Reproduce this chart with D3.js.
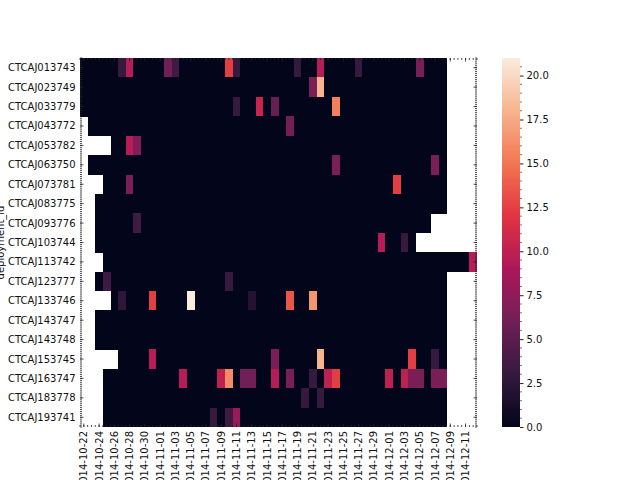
<!DOCTYPE html>
<html>
<head>
<meta charset="utf-8">
<script src="https://cdn.jsdelivr.net/npm/d3@7/dist/d3.min.js"></script>
<style>
    body { margin: 0; background: #fff; }
    text { font-family: "DejaVu Sans", sans-serif; font-size: 10px; fill: #111; }
</style>
</head>
<body>
<div id="chart"></div>
<script>
//Datos
const _ = null;

const deployments = ['CTCAJ013743','CTCAJ023749','CTCAJ033779','CTCAJ043772','CTCAJ053782','CTCAJ063750',
    'CTCAJ073781','CTCAJ083775','CTCAJ093776','CTCAJ103744','CTCAJ113742','CTCAJ123777','CTCAJ133746',
    'CTCAJ143747','CTCAJ143748','CTCAJ153745','CTCAJ163747','CTCAJ183778','CTCAJ193741'];

const dates = ['2014-10-22','2014-10-23','2014-10-24','2014-10-25','2014-10-26','2014-10-27','2014-10-28',
    '2014-10-29','2014-10-30','2014-10-31','2014-11-01','2014-11-02','2014-11-03','2014-11-04','2014-11-05',
    '2014-11-06','2014-11-07','2014-11-08','2014-11-09','2014-11-10','2014-11-11','2014-11-12','2014-11-13',
    '2014-11-14','2014-11-15','2014-11-16','2014-11-17','2014-11-18','2014-11-19','2014-11-20','2014-11-21',
    '2014-11-22','2014-11-23','2014-11-24','2014-11-25','2014-11-26','2014-11-27','2014-11-28','2014-11-29',
    '2014-11-30','2014-12-01','2014-12-02','2014-12-03','2014-12-04','2014-12-05','2014-12-06','2014-12-07',
    '2014-12-08','2014-12-09','2014-12-10','2014-12-11','2014-12-12'];

//Valores por fila (null = sin dato)
const r013743 = [0,0,0,0,0,3,9.5,0,0,0, 0,6,3.5,0,0,0,0,0,0,12.5, 3,0,0,0,0,0,0,0,3,0, 0,9.5,0,0,0,0,3,0,0,0, 0,0,0,0,6.5,0,0,0,_,_, _,_];
const r023749 = [0,0,0,0,0,0,0,0,0,0, 0,0,0,0,0,0,0,0,0,0, 0,0,0,0,0,0,0,0,0,0, 6.5,18,0,0,0,0,0,0,0,0, 0,0,0,0,0,0,0,0,_,_, _,_];
const r033779 = [0,0,0,0,0,0,0,0,0,0, 0,0,0,0,0,0,0,0,0,0, 3,0,0,10.5,0,5.5,0,0,0,0, 0,0,0,15.5,0,0,0,0,0,0, 0,0,0,0,0,0,0,0,_,_, _,_];
const r043772 = [_,0,0,0,0,0,0,0,0,0, 0,0,0,0,0,0,0,0,0,0, 0,0,0,0,0,0,0,6,0,0, 0,0,0,0,0,0,0,0,0,0, 0,0,0,0,0,0,0,0,_,_, _,_];
const r053782 = [_,_,_,_,0,0,9.5,7,0,0, 0,0,0,0,0,0,0,0,0,0, 0,0,0,0,0,0,0,0,0,0, 0,0,0,0,0,0,0,0,0,0, 0,0,0,0,0,0,0,0,_,_, _,_];
const r063750 = [_,0,0,0,0,0,0,0,0,0, 0,0,0,0,0,0,0,0,0,0, 0,0,0,0,0,0,0,0,0,0, 0,0,0,6.5,0,0,0,0,0,0, 0,0,0,0,0,0,6.5,0,_,_, _,_];
const r073781 = [_,_,_,0,0,0,6.5,0,0,0, 0,0,0,0,0,0,0,0,0,0, 0,0,0,0,0,0,0,0,0,0, 0,0,0,0,0,0,0,0,0,0, 0,12.5,0,0,0,0,0,0,_,_, _,_];
const r083775 = [_,_,0,0,0,0,0,0,0,0, 0,0,0,0,0,0,0,0,0,0, 0,0,0,0,0,0,0,0,0,0, 0,0,0,0,0,0,0,0,0,0, 0,0,0,0,0,0,0,0,_,_, _,_];
const r093776 = [_,_,0,0,0,0,0,3.5,0,0, 0,0,0,0,0,0,0,0,0,0, 0,0,0,0,0,0,0,0,0,0, 0,0,0,0,0,0,0,0,0,0, 0,0,0,0,0,0,_,_,_,_, _,_];
const r103744 = [_,_,0,0,0,0,0,0,0,0, 0,0,0,0,0,0,0,0,0,0, 0,0,0,0,0,0,0,0,0,0, 0,0,0,0,0,0,0,0,0,9.5, 0,0,3,0,_,_,_,_,_,_, _,_];
const r113742 = [_,_,_,0,0,0,0,0,0,0, 0,0,0,0,0,0,0,0,0,0, 0,0,0,0,0,0,0,0,0,0, 0,0,0,0,0,0,0,0,0,0, 0,0,0,0,0,0,0,0,0,0, 0,9.5];
const r123777 = [_,_,0,3.5,0,0,0,0,0,0, 0,0,0,0,0,0,0,0,0,3, 0,0,0,0,0,0,0,0,0,0, 0,0,0,0,0,0,0,0,0,0, 0,0,0,0,0,0,0,0,_,_, _,_];
const r133746 = [_,_,_,_,0,2.5,0,0,0,12.5, 0,0,0,0,21,0,0,0,0,0, 0,0,2,0,0,0,0,13.5,0,0, 16.5,0,0,0,0,0,0,0,0,0, 0,0,0,0,0,0,0,0,_,_, _,_];
const r143747 = [_,_,0,0,0,0,0,0,0,0, 0,0,0,0,0,0,0,0,0,0, 0,0,0,0,0,0,0,0,0,0, 0,0,0,0,0,0,0,0,0,0, 0,0,0,0,0,0,0,0,_,_, _,_];
const r143748 = [_,_,0,0,0,0,0,0,0,0, 0,0,0,0,0,0,0,0,0,0, 0,0,0,0,0,0,0,0,0,0, 0,0,0,0,0,0,0,0,0,0, 0,0,0,0,0,0,0,0,_,_, _,_];
const r153745 = [_,_,_,_,_,0,0,0,0,9.5, 0,0,0,0,0,0,0,0,0,0, 0,0,0,0,0,6.5,0,0,0,0, 0,18,0,0,0,0,0,0,0,0, 0,0,0,12.5,0,0,3,0,_,_, _,_];
const r163747 = [_,_,_,0,0,0,0,0,0,0, 0,0,0,9.5,0,0,0,0,10,16, 0,6,6,0,0,9.5,0,6.5,0,0, 3,0,10,12.5,0,0,0,0,0,0, 10,0,10,6.5,6.5,0,6.5,6.5,_,_, _,_];
const r183778 = [_,_,_,0,0,0,0,0,0,0, 0,0,0,0,0,0,0,0,0,0, 0,0,0,0,0,0,0,0,0,3, 0,3,0,0,0,0,0,0,0,0, 0,0,0,0,0,0,0,0,_,_, _,_];
const r193741 = [_,_,_,0,0,0,0,0,0,0, 0,0,0,0,0,0,0,3,0,3.5, 8,0,0,0,0,0,0,0,0,0, 0,0,0,0,0,0,0,0,0,0, 0,0,0,0,0,0,0,0,_,_, _,_];

const rows = [r013743, r023749, r033779, r043772, r053782, r063750, r073781, r083775, r093776, r103744,
    r113742, r123777, r133746, r143747, r143748, r153745, r163747, r183778, r193741];

const colorbarTicks = [0, 2.5, 5, 7.5, 10, 12.5, 15, 17.5, 20];
const valueRange = [0, 21];

//Paleta "rocket"
const rocketStops = [0, 0.143, 0.286, 0.429, 0.571, 0.714, 0.857, 1];
const rocketColors = ['#03051a', '#35193e', '#701f57', '#ad1759', '#e13342', '#f37651', '#f6b48f', '#faebdd'];

let margin = {top: 58, right: 163, bottom: 53, left: 80},
    W = 640, H = 480,
    width = W - margin.left - margin.right,
    height = H - margin.top - margin.bottom;

let svg = d3.select('#chart').append('svg')
    .attr('width', W)
    .attr('height', H);

let g = svg.append('g')
    .attr('transform', 'translate(' + margin.left + ',' + margin.top + ')');

let x = d3.scaleBand().domain(dates).range([0, width]);
let y = d3.scaleBand().domain(deployments).range([0, height]);

let color = d3.scaleLinear()
    .domain(rocketStops.map(function(t) { return valueRange[0] + t * (valueRange[1] - valueRange[0]); }))
    .range(rocketColors)
    .interpolate(d3.interpolateRgb)
    .clamp(true);

//Celdas
let cells = [];
rows.forEach(function(r, i) {
    r.forEach(function(v, j) {
        if (v !== null) cells.push({dep: deployments[i], date: dates[j], value: v});
    });
});

g.append('g')
    .selectAll('rect')
    .data(cells)
    .enter()
    .append('rect')
    .attr('x', function(d) { return x(d.date); })
    .attr('y', function(d) { return y(d.dep); })
    .attr('width', x.bandwidth() + 0.3)
    .attr('height', y.bandwidth() + 0.3)
    .attr('fill', function(d) { return color(d.value); })
    .attr('shape-rendering', 'crispEdges');

//Ticks hacia dentro (mayores y menores)
let tickCol = '#222';
let ticks = g.append('g').attr('stroke', tickCol).attr('stroke-width', 0.8);

let xMajor = dates.filter(function(d, i) { return i % 2 == 0; });
let xMinorPos = d3.range(0, dates.length * 2 + 1).map(function(k) { return k * x.bandwidth() / 2; });
xMinorPos.forEach(function(p) {
    ticks.append('line').attr('x1', p).attr('x2', p).attr('y1', 0).attr('y2', 2);
    ticks.append('line').attr('x1', p).attr('x2', p).attr('y1', height).attr('y2', height - 2);
});
xMajor.forEach(function(d) {
    let p = x(d) + x.bandwidth() / 2;
    ticks.append('line').attr('x1', p).attr('x2', p).attr('y1', 0).attr('y2', 3.5);
    ticks.append('line').attr('x1', p).attr('x2', p).attr('y1', height).attr('y2', height - 3.5);
});
let yMinorPos = d3.range(0, deployments.length * 10 + 1).map(function(k) { return k * y.bandwidth() / 10; });
yMinorPos.forEach(function(p) {
    ticks.append('line').attr('y1', p).attr('y2', p).attr('x1', 0).attr('x2', 2);
    ticks.append('line').attr('y1', p).attr('y2', p).attr('x1', width).attr('x2', width - 2);
});
deployments.forEach(function(d) {
    let p = y(d) + y.bandwidth() / 2;
    ticks.append('line').attr('y1', p).attr('y2', p).attr('x1', 0).attr('x2', 3.5);
    ticks.append('line').attr('y1', p).attr('y2', p).attr('x1', width).attr('x2', width - 3.5);
});

//Etiquetas eje Y
g.append('g')
    .selectAll('text')
    .data(deployments)
    .enter()
    .append('text')
    .attr('x', -4.5)
    .attr('y', function(d) { return y(d) + y.bandwidth() / 2; })
    .attr('dy', '0.35em')
    .attr('text-anchor', 'end')
    .text(function(d) { return d; });

//Etiquetas eje X (cada dos fechas)
g.append('g')
    .selectAll('text')
    .data(xMajor)
    .enter()
    .append('text')
    .attr('transform', function(d) { return 'translate(' + (x(d) + x.bandwidth() / 2) + ',' + (height + 4) + ') rotate(-90)'; })
    .attr('dy', '0.35em')
    .attr('text-anchor', 'end')
    .text(function(d) { return d; });

//Título eje Y
svg.append('text')
    .attr('transform', 'translate(4,' + (margin.top + height / 2) + ') rotate(-90)')
    .attr('text-anchor', 'middle')
    .text('deployment_id');

//Barra de color
let cbX = 502, cbW = 18;
let cb = d3.scaleLinear().domain(valueRange).range([margin.top + height, margin.top]);

let grad = svg.append('defs').append('linearGradient')
    .attr('id', 'rocket')
    .attr('x1', 0).attr('x2', 0).attr('y1', 1).attr('y2', 0);
d3.range(0, 101).forEach(function(k) {
    let v = valueRange[0] + k / 100 * (valueRange[1] - valueRange[0]);
    grad.append('stop').attr('offset', k + '%').attr('stop-color', color(v));
});

svg.append('rect')
    .attr('x', cbX).attr('y', margin.top)
    .attr('width', cbW).attr('height', height)
    .attr('fill', 'url(#rocket)');

let cbAxis = svg.append('g')
    .attr('transform', 'translate(' + (cbX + cbW) + ',0)')
    .call(d3.axisRight(cb).tickValues(colorbarTicks).tickSize(3.5).tickPadding(3).tickFormat(d3.format('.1f')));
cbAxis.select('.domain').remove();
cbAxis.selectAll('text').style('font-size', '10px').attr('fill', '#111');
cbAxis.selectAll('line').attr('stroke', tickCol);

let cbMinor = d3.range(0, 42).map(function(k) { return k * 0.5; }).filter(function(v) { return colorbarTicks.indexOf(v) < 0; });
svg.append('g')
    .selectAll('line')
    .data(cbMinor)
    .enter()
    .append('line')
    .attr('x1', cbX + cbW).attr('x2', cbX + cbW + 2)
    .attr('y1', function(d) { return cb(d); })
    .attr('y2', function(d) { return cb(d); })
    .attr('stroke', tickCol)
    .attr('stroke-width', 0.6);
</script>
</body>
</html>
